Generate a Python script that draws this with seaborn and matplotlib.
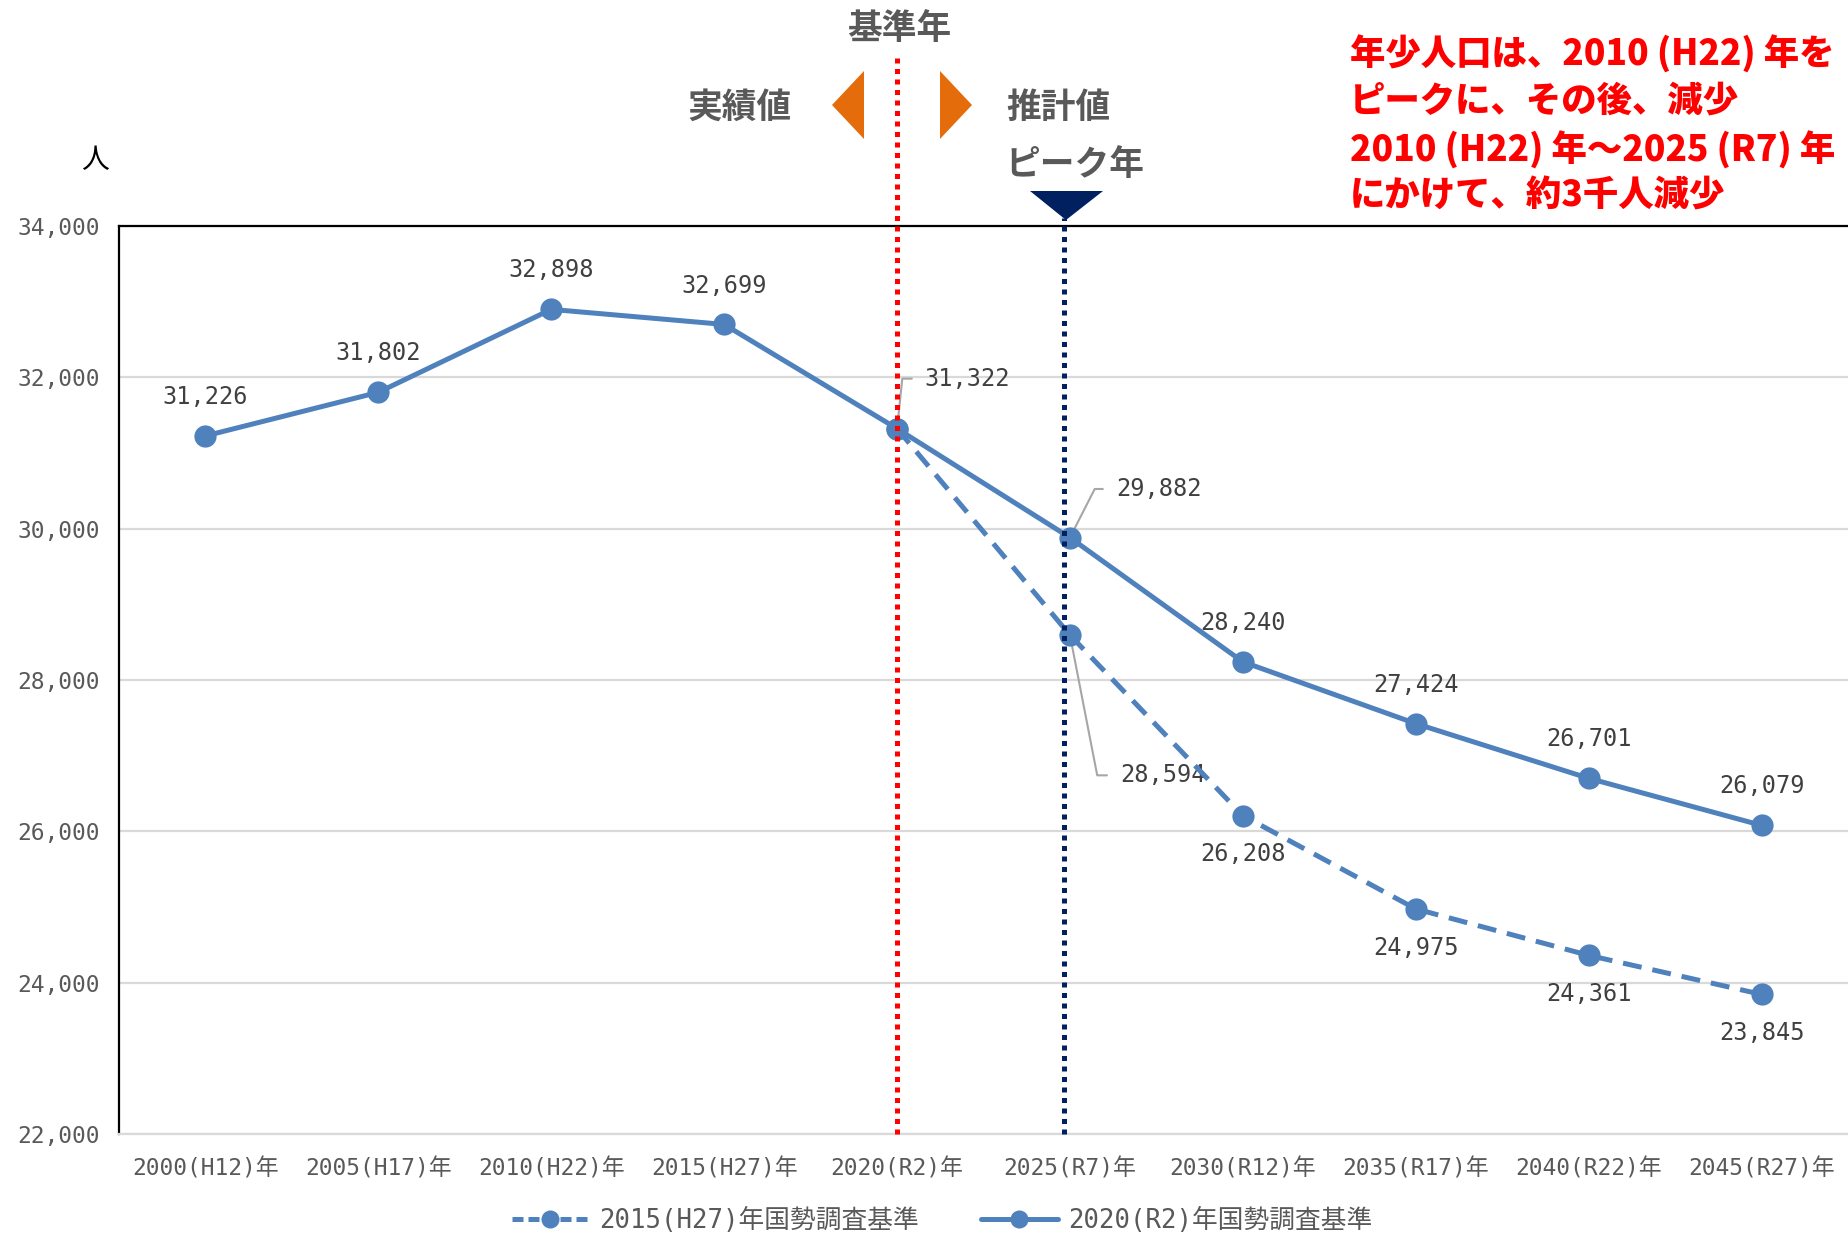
import numpy as np
import pandas as pd
import matplotlib
matplotlib.use("Agg")
import matplotlib.pyplot as plt
import seaborn as sns
from matplotlib.patches import Polygon
from matplotlib.lines import Line2D

# ---------------- data ----------------
years = ["2000(H12)年", "2005(H17)年", "2010(H22)年", "2015(H27)年", "2020(R2)年",
         "2025(R7)年", "2030(R12)年", "2035(R17)年", "2040(R22)年", "2045(R27)年"]
pop_2020_base = [31226, 31802, 32898, 32699, 31322, 29882, 28240, 27424, 26701, 26079]
pop_2015_base = [None, None, None, None, 31322, 28594, 26208, 24975, 24361, 23845]
series_names = ["2015(H27)年国勢調査基準", "2020(R2)年国勢調査基準"]
y_ticks = [22000, 24000, 26000, 28000, 30000, 32000, 34000]
base_year_idx = 4
peak_year_idx = 5
note_lines = ["年少人口は、2010 (H22) 年を",
              "ピークに、その後、減少",
              "2010 (H22) 年～2025 (R7) 年",
              "にかけて、約3千人減少"]

sns.set_style("white")
plt.rcParams["font.family"] = ["DejaVu Sans Mono", "Noto Sans CJK JP"]

W, H = 1848, 1234
fig = plt.figure(figsize=(W / 100, H / 100), dpi=100)


def fx(x):
    return x / W


def fy(y):
    return 1 - y / H


ax = fig.add_axes([fx(119), fy(1134), 1 - fx(119), (1134 - 226) / H])

BLUE = "#4F81BD"
GRAY = "#595959"

idx = np.arange(len(years))
df_solid = pd.DataFrame({"x": idx, "y": pop_2020_base})
df_dash = pd.DataFrame({"x": idx, "y": pop_2015_base}).dropna()

sns.lineplot(data=df_dash, x="x", y="y", ax=ax, color=BLUE, lw=3.6,
             marker="o", markersize=16, markeredgewidth=0, zorder=4)
ax.lines[-1].set_dashes((3.8, 2.2))
sns.lineplot(data=df_solid, x="x", y="y", ax=ax, color=BLUE, lw=3.6,
             marker="o", markersize=16, markeredgewidth=0, zorder=5)

ax.set_xlim(-0.5, 9.5)
ax.set_ylim(y_ticks[0], y_ticks[-1])
ax.set_yticks(y_ticks)
ax.set_yticklabels([f"{v:,}" for v in y_ticks])
ax.set_xticks(idx)
ax.set_xticklabels(years)
ax.set_xlabel("")
ax.set_ylabel("")
ax.tick_params(axis="both", length=0, labelsize=16.5, labelcolor=GRAY)
ax.tick_params(axis="y", pad=14)
ax.tick_params(axis="x", pad=17)
ax.grid(axis="y", color="#D9D9D9", lw=1.6)
ax.grid(axis="x", visible=False)
ax.spines["right"].set_visible(False)
ax.spines["top"].set_color("black")
ax.spines["top"].set_linewidth(1.6)
ax.spines["left"].set_color("black")
ax.spines["left"].set_linewidth(1.6)
ax.spines["bottom"].set_color("#D9D9D9")
ax.spines["bottom"].set_linewidth(1.6)

# vertical reference lines
ax.axvline(base_year_idx, ymin=0, ymax=(1134 - 57) / 908, color="#FF0000", lw=3.6,
           linestyle=(0, (1, 1.1)), clip_on=False, zorder=6)
ax.axvline(peak_year_idx - 0.035, ymin=0, ymax=(1134 - 218) / 908, color="#002060",
           lw=3.6, linestyle=(0, (1, 1.1)), clip_on=False, zorder=6)

# data labels
lab_kw = dict(textcoords="offset points", fontsize=17, color="#404040", va="center")
for i, v in enumerate(pop_2020_base):
    if i in (base_year_idx, peak_year_idx):
        continue
    ax.annotate(f"{v:,}", (i, v), xytext=(0, 28), ha="center", **lab_kw)
for i, v in enumerate(pop_2015_base):
    if v is None or i in (base_year_idx, peak_year_idx):
        continue
    ax.annotate(f"{v:,}", (i, v), xytext=(0, -28), ha="center", **lab_kw)

leader = dict(arrowstyle="-", color="#A6A6A6", lw=1.5, shrinkA=7, shrinkB=0,
              relpos=(0, 0.5))
v = pop_2020_base[base_year_idx]
ax.annotate(f"{v:,}", (base_year_idx, v), xytext=(20, 36), ha="left",
            arrowprops=dict(connectionstyle="angle,angleA=0,angleB=84,rad=0", **leader),
            **lab_kw)
v = pop_2020_base[peak_year_idx]
ax.annotate(f"{v:,}", (peak_year_idx, v), xytext=(33, 35), ha="left",
            arrowprops=dict(connectionstyle="angle,angleA=0,angleB=63,rad=0", **leader),
            **lab_kw)
v = pop_2015_base[peak_year_idx]
ax.annotate(f"{v:,}", (peak_year_idx, v), xytext=(36, -101), ha="left",
            arrowprops=dict(connectionstyle="angle,angleA=0,angleB=-79,rad=0", **leader),
            **lab_kw)

# top decorations
jp = ["Noto Sans CJK JP"]
fig.text(fx(899), fy(28), "基準年", ha="center", va="center", fontsize=25,
         fontweight="bold", color=GRAY, family=jp)
fig.text(fx(740), fy(107), "実績値", ha="center", va="center", fontsize=25,
         fontweight="bold", color=GRAY, family=jp)
fig.text(fx(1058), fy(107), "推計値", ha="center", va="center", fontsize=25,
         fontweight="bold", color=GRAY, family=jp)
fig.text(fx(1075), fy(165), "ピーク年", ha="center", va="center", fontsize=25,
         fontweight="bold", color=GRAY, family=jp)
fig.text(fx(95), fy(160), "人", ha="center", va="center", fontsize=20,
         color="black", family=jp)

ORANGE = "#E46C0A"
for pts, col in [([(832, 105), (864, 71), (864, 139)], ORANGE),
                 ([(940, 71), (940, 139), (972, 105)], ORANGE),
                 ([(1030, 191), (1103, 191), (1066, 220)], "#002060")]:
    fig.patches.append(Polygon([(fx(a), fy(b)) for a, b in pts], closed=True,
                               transform=fig.transFigure, facecolor=col,
                               edgecolor="none"))

for k, line in enumerate(note_lines):
    fig.text(fx(1350), fy([54, 101, 150, 196][k]), line, ha="left", va="center",
             fontsize=25.5, fontweight="heavy", color="#FF0000", family=jp)

# legend
handles = [Line2D([], [], color=BLUE, lw=3.6, dashes=(2.2, 1.0), marker="o",
                  markersize=13, markeredgewidth=0),
           Line2D([], [], color=BLUE, lw=3.6, marker="o", markersize=13,
                  markeredgewidth=0)]
fig.legend(handles, series_names, loc="center", bbox_to_anchor=(fx(942), fy(1221)),
           ncol=2, frameon=False, fontsize=18.5, labelcolor=GRAY, handlelength=3.0,
           handletextpad=0.4, columnspacing=2.4, borderpad=0.1)

fig.savefig("out.png", dpi=100)
